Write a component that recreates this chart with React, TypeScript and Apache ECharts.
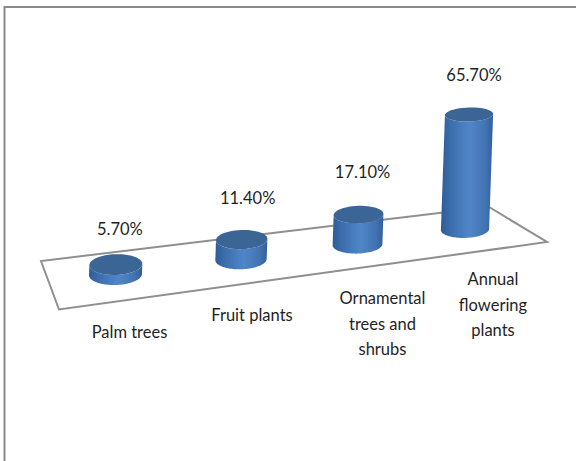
import React, { useEffect, useRef } from "react";
import * as echarts from "echarts";

const categories = ["Palm trees", "Fruit plants", "Ornamental\ntrees and\nshrubs", "Annual\nflowering\nplants"];
const shares = [5.7, 11.4, 17.1, 65.7];

// label placement relative to each cylinder's foot (layout only)
const categoryLabelDx = [14, 11, 25, 28];
const categoryLabelDy = [45, 43, 41, 37];
const valueLabelDx = [4, 6, 4, 5];
const valueLabelDy = [-36, -42, -43, -40];

const FONT = '16.5px Lato, "Open Sans", sans-serif';
const TEXT = "#1f1f1f";
const FRAME = "#8a8a8a";

function ellipsePoints(cx: number, cy: number, rx: number, ry: number, from: number, to: number, tilt: number) {
  const pts: number[][] = [];
  const n = 48;
  for (let k = 0; k <= n; k++) {
    const a = from + ((to - from) * k) / n;
    const ex = rx * Math.cos(a);
    const ey = ry * Math.sin(a);
    pts.push([cx + ex * Math.cos(tilt) - ey * Math.sin(tilt), cy + ex * Math.sin(tilt) + ey * Math.cos(tilt)]);
  }
  return pts;
}

function renderCylinder(params: any, api: any) {
  const i = api.value(0);
  const v = api.value(1);
  const foot = api.coord([i, 0]);
  const head = api.coord([i, v]);
  const h = foot[1] - head[1];
  // oblique floor: the category axis recedes up and to the right
  const bx = foot[0] + 4.5 * i * (3 - i);
  const by = foot[1] - 15 * i;
  const tx = bx + h * 0.035;
  const ty = by - h;
  const rx = 26.5 - 0.8 * i;
  const ryBase = 10.5 - 0.7 * i;
  const ryTop = ryBase - h * 0.012;
  const tilt = -0.03;
  const body = [
    ...ellipsePoints(tx, ty, rx, ryTop, Math.PI, 0, tilt),
    ...ellipsePoints(bx, by, rx, ryBase, 0, Math.PI, tilt),
  ];
  const top = ellipsePoints(tx, ty, rx, ryTop, 0, Math.PI * 2, tilt);
  const bodyFill = new echarts.graphic.LinearGradient(0, 0, 1, 0, [
    { offset: 0, color: "#2d5c96" },
    { offset: 0.18, color: "#3c6ead" },
    { offset: 0.55, color: "#5086c9" },
    { offset: 0.85, color: "#4273b3" },
    { offset: 1, color: "#315f9a" },
  ]);
  return {
    type: "group",
    children: [
      { type: "polygon", shape: { points: body }, style: { fill: bodyFill } },
      { type: "polygon", shape: { points: top }, style: { fill: "#3a6595" } },
      {
        type: "text",
        style: {
          text: `${v.toFixed(2)}%`,
          x: tx + valueLabelDx[i],
          y: ty + valueLabelDy[i],
          textAlign: "center",
          textVerticalAlign: "middle",
          font: FONT,
          fill: TEXT,
        },
      },
      {
        type: "text",
        style: {
          text: categories[i],
          x: bx + categoryLabelDx[i],
          y: by + categoryLabelDy[i],
          textAlign: "center",
          textVerticalAlign: "top",
          font: FONT,
          lineHeight: 25.5,
          fill: TEXT,
        },
      },
    ],
  };
}

export default function App() {
  const ref = useRef<HTMLDivElement>(null);
  useEffect(() => {
    const chart = echarts.init(ref.current!, undefined, { renderer: "svg" });
    chart.setOption({
      animation: false,
      backgroundColor: "#ffffff",
      grid: { left: 57.25, width: 466, top: 99.5, height: 175 },
      xAxis: { type: "category", data: categories, show: false },
      yAxis: { type: "value", min: 0, max: 100, show: false },
      graphic: [
        {
          type: "polyline",
          silent: true,
          shape: { points: [[4.5, 461], [4.5, 7], [576, 7]] },
          style: { stroke: FRAME, lineWidth: 2, fill: "none" },
        },
        {
          type: "polygon",
          silent: true,
          shape: { points: [[41, 261], [59, 309.5], [547, 242], [489, 207]] },
          style: { stroke: "#8f8f8f", lineWidth: 2, fill: "#ffffff" },
        },
      ],
      series: [
        {
          type: "custom",
          coordinateSystem: "cartesian2d",
          clip: false,
          encode: { x: 0, y: 1 },
          data: shares.map((v, i) => [i, v]),
          renderItem: renderCylinder,
        },
      ],
    });
    return () => chart.dispose();
  }, []);
  return <div ref={ref} style={{ position: "absolute", left: 0, top: 0, width: 576, height: 461 }} />;
}
